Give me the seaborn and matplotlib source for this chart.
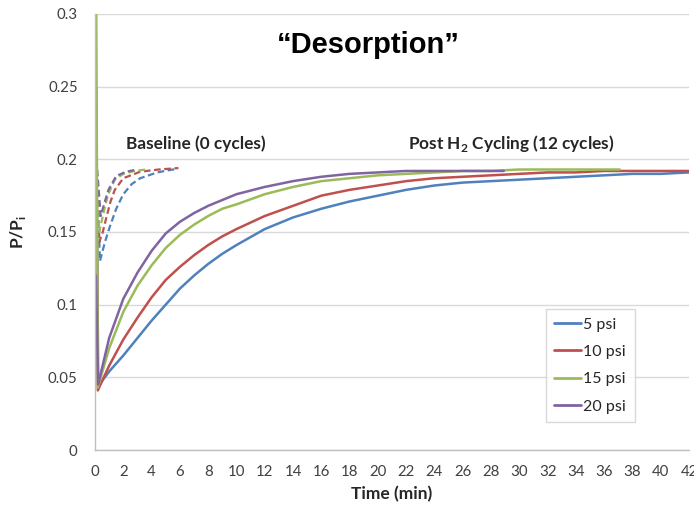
import numpy as np
import pandas as pd
import matplotlib
matplotlib.use("Agg")
import matplotlib.pyplot as plt
import seaborn as sns

# ---- data ----
labels = ["5 psi", "10 psi", "15 psi", "20 psi"]
colors = ["#4F81BD", "#C0504D", "#9BBB59", "#8064A2"]

# Post H2 cycling (solid)
t_blue = [0.07, 0.23, 1, 2, 3, 4, 5, 6, 7, 8, 9, 10, 12, 14, 16, 18, 20, 22, 24, 26, 28, 30, 32, 34, 36, 38, 40, 42]
v_blue = [0.25, 0.044, 0.054, 0.065, 0.077, 0.089, 0.100, 0.111, 0.120, 0.128, 0.135, 0.141, 0.152, 0.160, 0.166,
          0.171, 0.175, 0.179, 0.182, 0.184, 0.185, 0.186, 0.187, 0.188, 0.189, 0.190, 0.190, 0.191]
t_red = [0.07, 0.2, 1, 2, 3, 4, 5, 6, 7, 8, 9, 10, 12, 14, 16, 18, 20, 22, 24, 26, 28, 30, 32, 34, 36, 38, 40, 42]
v_red = [0.25, 0.041, 0.058, 0.076, 0.091, 0.105, 0.117, 0.126, 0.134, 0.141, 0.147, 0.152, 0.161, 0.168, 0.175,
         0.179, 0.182, 0.185, 0.187, 0.188, 0.189, 0.190, 0.191, 0.191, 0.192, 0.192, 0.192, 0.192]
t_green = [0.07, 0.2, 1, 2, 3, 4, 5, 6, 7, 8, 9, 10, 12, 14, 16, 18, 20, 22, 24, 26, 28, 30, 32, 34, 37.1]
v_green = [0.35, 0.043, 0.070, 0.095, 0.113, 0.127, 0.139, 0.148, 0.155, 0.161, 0.166, 0.169, 0.176, 0.181, 0.185,
           0.187, 0.189, 0.190, 0.191, 0.192, 0.192, 0.193, 0.193, 0.193, 0.193]
t_purple = [0.07, 0.22, 1, 2, 3, 4, 5, 6, 7, 8, 9, 10, 12, 14, 16, 18, 20, 22, 24, 26, 28.9]
v_purple = [0.12, 0.045, 0.077, 0.104, 0.122, 0.137, 0.149, 0.157, 0.163, 0.168, 0.172, 0.176, 0.181, 0.185, 0.188,
            0.190, 0.191, 0.192, 0.192, 0.192, 0.192]

# Baseline (dashed)
tb_blue = [0.1, 0.35, 0.7, 1.06, 1.5, 2.0, 2.6, 3.2, 4.4, 5.5, 5.8]
vb_blue = [0.20, 0.130, 0.143, 0.154, 0.166, 0.176, 0.183, 0.187, 0.191, 0.193, 0.193]
tb_red = [0.1, 0.3, 0.55, 0.83, 1.1, 1.4, 2.0, 3.2, 4.5, 5.9]
vb_red = [0.20, 0.143, 0.150, 0.161, 0.171, 0.179, 0.187, 0.1915, 0.193, 0.194]
tb_green = [0.1, 0.3, 0.6, 0.9, 1.4, 2.0, 2.8, 3.6]
vb_green = [0.20, 0.150, 0.163, 0.175, 0.186, 0.190, 0.192, 0.193]
tb_purple = [0.1, 0.4, 0.7, 0.95, 1.5, 2.2, 3.0]
vb_purple = [0.20, 0.161, 0.171, 0.179, 0.1885, 0.1915, 0.193]

xticks = list(range(0, 43, 2))
yticks = [0, 0.05, 0.1, 0.15, 0.2, 0.25, 0.3]
ytick_labels = ["0", "0.05", "0.1", "0.15", "0.2", "0.25", "0.3"]

solid = [(t_blue, v_blue), (t_red, v_red), (t_green, v_green), (t_purple, v_purple)]
dashed = [(tb_blue, vb_blue), (tb_red, vb_red), (tb_green, vb_green), (tb_purple, vb_purple)]

# ---- plotting ----
sns.set_style("white")
plt.rcParams['font.family'] = ['Lato', 'DejaVu Sans']

fig = plt.figure(figsize=(6.94, 5.09), dpi=100)
ax = fig.add_axes([95 / 694, 1 - 450 / 509, 594 / 694, 436 / 509])

for (t, v), c in zip(dashed, colors):
    sns.lineplot(x=t, y=v, ax=ax, color=c, linewidth=1.6, sort=False,
                 linestyle=(0, (3.0, 1.6)), legend=False)

for (t, v), c, lab in zip(solid, colors, labels):
    sns.lineplot(x=t, y=v, ax=ax, color=c, linewidth=1.8, sort=False, label=lab)

ax.set_xlim(0, 42)
ax.set_ylim(0, 0.3)
ax.set_xticks(xticks)
ax.set_xticklabels([str(x) for x in xticks])
ax.set_yticks(yticks)
ax.set_yticklabels(ytick_labels)
ax.yaxis.grid(True, color="#d9d9d9", linewidth=1.0)
ax.xaxis.grid(False)
ax.set_axisbelow(True)
for s in ["top", "right"]:
    ax.spines[s].set_visible(False)
for s in ["left", "bottom"]:
    ax.spines[s].set_color("#bfbfbf")
    ax.spines[s].set_linewidth(1.0)
ax.tick_params(axis="both", which="major", length=5, width=1.0, color="#bfbfbf",
               labelsize=10.8, labelcolor="#404040", direction="out")
ax.tick_params(axis="x", pad=6)
ax.tick_params(axis="y", pad=7.5)

ax.set_xlabel("Time (min)", fontsize=12.5, fontweight="bold", color="#262626", labelpad=5)
ax.set_ylabel(r"P/P$_\mathregular{i}$", fontsize=12.5, fontweight="bold", color="#262626", labelpad=14)

ax.text(19.3, 0.279, "\u201cDesorption\u201d", ha="center", va="center", fontsize=21,
        fontweight="bold", family=["Liberation Sans", "DejaVu Sans"], color="black")
ax.text(2.2, 0.211, "Baseline (0 cycles)", ha="left", va="center", fontsize=12.4,
        fontweight="bold", color="#262626")
ax.text(22.1, 0.211, r"Post H$_\mathregular{2}$ Cycling (12 cycles)", ha="left", va="center", fontsize=12.4,
        fontweight="bold", color="#262626")

leg = ax.legend(loc="lower left", bbox_to_anchor=(0.745, 0.045), fontsize=11.5, frameon=True,
                fancybox=False, edgecolor="#d0d0d0", handlelength=1.7, handletextpad=0.1,
                labelspacing=0.82, borderpad=0.55)
leg.get_frame().set_linewidth(1.0)
for h in leg.get_lines():
    h.set_linewidth(2.0)

fig.savefig("out.png", dpi=100)
